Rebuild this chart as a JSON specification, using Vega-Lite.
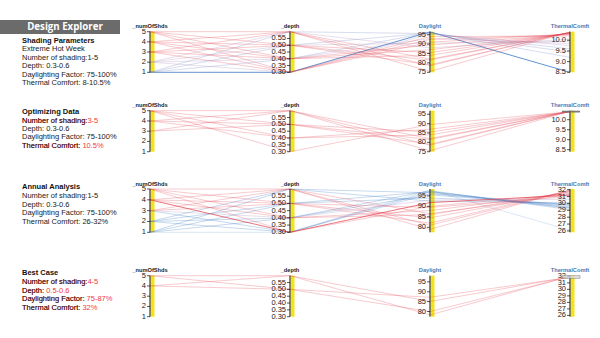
{
  "$schema": "https://vega.github.io/schema/vega-lite/v6.json",
  "width": 600,
  "height": 338,
  "padding": 0,
  "autosize": {"type": "fit", "contains": "padding"},
  "background": "white",
  "config": {"view": {"stroke": null}, "font": "Liberation Sans"},
  "resolve": {"scale": {"x": "independent", "y": "independent"}},
  "datasets": {
    "notes": [
      {"row": 1, "line": 0, "label": "Shading Parameters", "value": "", "hl": false, "bold": true},
      {"row": 1, "line": 1, "label": "Extreme Hot Week", "value": "", "hl": false, "bold": false},
      {"row": 1, "line": 2, "label": "Number of shading:", "value": "1-5", "hl": false, "bold": false},
      {"row": 1, "line": 3, "label": "Depth: ", "value": "0.3-0.6", "hl": false, "bold": false},
      {"row": 1, "line": 4, "label": "Daylighting Factor: ", "value": "75-100%", "hl": false, "bold": false},
      {"row": 1, "line": 5, "label": "Thermal Comfort: ", "value": "8-10.5%", "hl": false, "bold": false},
      {"row": 2, "line": 0, "label": "Optimizing Data", "value": "", "hl": false, "bold": true},
      {"row": 2, "line": 1, "label": "Number of shading:", "value": "3-5", "hl": true, "bold": false},
      {"row": 2, "line": 2, "label": "Depth: ", "value": "0.3-0.6", "hl": false, "bold": false},
      {"row": 2, "line": 3, "label": "Daylighting Factor: ", "value": "75-100%", "hl": false, "bold": false},
      {"row": 2, "line": 4, "label": "Thermal Comfort: ", "value": "10.5%", "hl": true, "bold": false},
      {"row": 3, "line": 0, "label": "Annual Analysis", "value": "", "hl": false, "bold": true},
      {"row": 3, "line": 1, "label": "Number of shading:", "value": "1-5", "hl": false, "bold": false},
      {"row": 3, "line": 2, "label": "Depth: ", "value": "0.3-0.6", "hl": false, "bold": false},
      {"row": 3, "line": 3, "label": "Daylighting Factor: ", "value": "75-100%", "hl": false, "bold": false},
      {"row": 3, "line": 4, "label": "Thermal Comfort: ", "value": "26-32%", "hl": false, "bold": false},
      {"row": 4, "line": 0, "label": "Best Case", "value": "", "hl": false, "bold": true},
      {"row": 4, "line": 1, "label": "Number of shading:", "value": "4-5", "hl": true, "bold": false},
      {"row": 4, "line": 2, "label": "Depth: ", "value": "0.5-0.6", "hl": true, "bold": false},
      {"row": 4, "line": 3, "label": "Daylighting Factor: ", "value": "75-87%", "hl": true, "bold": false},
      {"row": 4, "line": 4, "label": "Thermal Comfort: ", "value": "32%", "hl": true, "bold": false}
    ],
    "designs": [
      {"panel": 1, "id": 1, "_numOfShds": 1, "_depth": 0.3, "Daylight": 96.5, "ThermalComft": 8.5},
      {"panel": 1, "id": 2, "_numOfShds": 1, "_depth": 0.4, "Daylight": 96.2, "ThermalComft": 9.2},
      {"panel": 1, "id": 3, "_numOfShds": 1, "_depth": 0.5, "Daylight": 95.9, "ThermalComft": 9.45},
      {"panel": 1, "id": 4, "_numOfShds": 1, "_depth": 0.6, "Daylight": 95.6, "ThermalComft": 9.6},
      {"panel": 1, "id": 5, "_numOfShds": 2, "_depth": 0.3, "Daylight": 95.3, "ThermalComft": 9.75},
      {"panel": 1, "id": 6, "_numOfShds": 2, "_depth": 0.4, "Daylight": 93.0, "ThermalComft": 9.85},
      {"panel": 1, "id": 7, "_numOfShds": 2, "_depth": 0.5, "Daylight": 90.5, "ThermalComft": 9.95},
      {"panel": 1, "id": 8, "_numOfShds": 2, "_depth": 0.6, "Daylight": 88.0, "ThermalComft": 10.05},
      {"panel": 1, "id": 9, "_numOfShds": 3, "_depth": 0.3, "Daylight": 94.0, "ThermalComft": 10.2},
      {"panel": 1, "id": 10, "_numOfShds": 3, "_depth": 0.4, "Daylight": 89.5, "ThermalComft": 10.28},
      {"panel": 1, "id": 11, "_numOfShds": 3, "_depth": 0.5, "Daylight": 85.5, "ThermalComft": 10.33},
      {"panel": 1, "id": 12, "_numOfShds": 3, "_depth": 0.6, "Daylight": 82.0, "ThermalComft": 10.36},
      {"panel": 1, "id": 13, "_numOfShds": 4, "_depth": 0.3, "Daylight": 92.5, "ThermalComft": 10.26},
      {"panel": 1, "id": 14, "_numOfShds": 4, "_depth": 0.4, "Daylight": 87.0, "ThermalComft": 10.33},
      {"panel": 1, "id": 15, "_numOfShds": 4, "_depth": 0.5, "Daylight": 81.5, "ThermalComft": 10.36},
      {"panel": 1, "id": 16, "_numOfShds": 4, "_depth": 0.6, "Daylight": 78.5, "ThermalComft": 10.38},
      {"panel": 1, "id": 17, "_numOfShds": 5, "_depth": 0.3, "Daylight": 91.0, "ThermalComft": 10.3},
      {"panel": 1, "id": 18, "_numOfShds": 5, "_depth": 0.4, "Daylight": 84.0, "ThermalComft": 10.35},
      {"panel": 1, "id": 19, "_numOfShds": 5, "_depth": 0.5, "Daylight": 79.0, "ThermalComft": 10.37},
      {"panel": 1, "id": 20, "_numOfShds": 5, "_depth": 0.6, "Daylight": 75.5, "ThermalComft": 10.39},
      {"panel": 2, "id": 11, "_numOfShds": 3, "_depth": 0.5, "Daylight": 85.5, "ThermalComft": 10.4},
      {"panel": 2, "id": 12, "_numOfShds": 3, "_depth": 0.6, "Daylight": 82.0, "ThermalComft": 10.41},
      {"panel": 2, "id": 14, "_numOfShds": 4, "_depth": 0.4, "Daylight": 87.0, "ThermalComft": 10.4},
      {"panel": 2, "id": 15, "_numOfShds": 4, "_depth": 0.5, "Daylight": 81.5, "ThermalComft": 10.41},
      {"panel": 2, "id": 16, "_numOfShds": 4, "_depth": 0.6, "Daylight": 78.5, "ThermalComft": 10.42},
      {"panel": 2, "id": 17, "_numOfShds": 5, "_depth": 0.3, "Daylight": 89.5, "ThermalComft": 10.4},
      {"panel": 2, "id": 18, "_numOfShds": 5, "_depth": 0.4, "Daylight": 84.0, "ThermalComft": 10.41},
      {"panel": 2, "id": 19, "_numOfShds": 5, "_depth": 0.5, "Daylight": 79.0, "ThermalComft": 10.42},
      {"panel": 2, "id": 20, "_numOfShds": 5, "_depth": 0.6, "Daylight": 75.5, "ThermalComft": 10.42},
      {"panel": 3, "id": 1, "_numOfShds": 1, "_depth": 0.3, "Daylight": 97.8, "ThermalComft": 26.1},
      {"panel": 3, "id": 2, "_numOfShds": 1, "_depth": 0.4, "Daylight": 97.5, "ThermalComft": 29.1},
      {"panel": 3, "id": 3, "_numOfShds": 1, "_depth": 0.5, "Daylight": 97.0, "ThermalComft": 29.3},
      {"panel": 3, "id": 4, "_numOfShds": 1, "_depth": 0.6, "Daylight": 96.5, "ThermalComft": 29.4},
      {"panel": 3, "id": 5, "_numOfShds": 2, "_depth": 0.3, "Daylight": 97.0, "ThermalComft": 29.5},
      {"panel": 3, "id": 6, "_numOfShds": 2, "_depth": 0.4, "Daylight": 95.5, "ThermalComft": 29.7},
      {"panel": 3, "id": 7, "_numOfShds": 2, "_depth": 0.5, "Daylight": 94.0, "ThermalComft": 29.9},
      {"panel": 3, "id": 8, "_numOfShds": 2, "_depth": 0.6, "Daylight": 92.5, "ThermalComft": 30.1},
      {"panel": 3, "id": 9, "_numOfShds": 3, "_depth": 0.3, "Daylight": 96.0, "ThermalComft": 29.8},
      {"panel": 3, "id": 10, "_numOfShds": 3, "_depth": 0.4, "Daylight": 93.0, "ThermalComft": 30.6},
      {"panel": 3, "id": 11, "_numOfShds": 3, "_depth": 0.5, "Daylight": 89.5, "ThermalComft": 31.0},
      {"panel": 3, "id": 12, "_numOfShds": 3, "_depth": 0.6, "Daylight": 86.5, "ThermalComft": 31.3},
      {"panel": 3, "id": 13, "_numOfShds": 4, "_depth": 0.3, "Daylight": 91.8, "ThermalComft": 31.2},
      {"panel": 3, "id": 14, "_numOfShds": 4, "_depth": 0.4, "Daylight": 88.0, "ThermalComft": 31.5},
      {"panel": 3, "id": 15, "_numOfShds": 4, "_depth": 0.5, "Daylight": 84.5, "ThermalComft": 31.7},
      {"panel": 3, "id": 16, "_numOfShds": 4, "_depth": 0.6, "Daylight": 81.0, "ThermalComft": 31.85},
      {"panel": 3, "id": 17, "_numOfShds": 5, "_depth": 0.3, "Daylight": 90.0, "ThermalComft": 31.4},
      {"panel": 3, "id": 18, "_numOfShds": 5, "_depth": 0.4, "Daylight": 86.0, "ThermalComft": 31.7},
      {"panel": 3, "id": 19, "_numOfShds": 5, "_depth": 0.5, "Daylight": 82.0, "ThermalComft": 31.9},
      {"panel": 3, "id": 20, "_numOfShds": 5, "_depth": 0.6, "Daylight": 79.0, "ThermalComft": 32.0},
      {"panel": 4, "id": 1, "_numOfShds": 5, "_depth": 0.6, "Daylight": 78.3, "ThermalComft": 32.0},
      {"panel": 4, "id": 2, "_numOfShds": 5, "_depth": 0.5, "Daylight": 80.0, "ThermalComft": 31.95},
      {"panel": 4, "id": 3, "_numOfShds": 4, "_depth": 0.6, "Daylight": 85.1, "ThermalComft": 31.9},
      {"panel": 4, "id": 4, "_numOfShds": 4, "_depth": 0.5, "Daylight": 87.2, "ThermalComft": 31.85}
    ],
    "axes": [
      {"key": "_numOfShds"},
      {"key": "_depth"},
      {"key": "Daylight"},
      {"key": "ThermalComft"}
    ],
    "ticks": [
      {"set": "all", "key": "_numOfShds", "value": 1, "label": "1"},
      {"set": "all", "key": "_numOfShds", "value": 2, "label": "2"},
      {"set": "all", "key": "_numOfShds", "value": 3, "label": "3"},
      {"set": "all", "key": "_numOfShds", "value": 4, "label": "4"},
      {"set": "all", "key": "_numOfShds", "value": 5, "label": "5"},
      {"set": "all", "key": "_depth", "value": 0.3, "label": "0.30"},
      {"set": "all", "key": "_depth", "value": 0.35, "label": "0.35"},
      {"set": "all", "key": "_depth", "value": 0.4, "label": "0.40"},
      {"set": "all", "key": "_depth", "value": 0.45, "label": "0.45"},
      {"set": "all", "key": "_depth", "value": 0.5, "label": "0.50"},
      {"set": "all", "key": "_depth", "value": 0.55, "label": "0.55"},
      {"set": "week", "key": "Daylight", "value": 75, "label": "75"},
      {"set": "all", "key": "Daylight", "value": 80, "label": "80"},
      {"set": "all", "key": "Daylight", "value": 85, "label": "85"},
      {"set": "all", "key": "Daylight", "value": 90, "label": "90"},
      {"set": "all", "key": "Daylight", "value": 95, "label": "95"},
      {"set": "week", "key": "ThermalComft", "value": 8.5, "label": "8.5"},
      {"set": "week", "key": "ThermalComft", "value": 9.0, "label": "9.0"},
      {"set": "week", "key": "ThermalComft", "value": 9.5, "label": "9.5"},
      {"set": "week", "key": "ThermalComft", "value": 10.0, "label": "10.0"},
      {"set": "year", "key": "ThermalComft", "value": 26, "label": "26"},
      {"set": "year", "key": "ThermalComft", "value": 27, "label": "27"},
      {"set": "year", "key": "ThermalComft", "value": 28, "label": "28"},
      {"set": "year", "key": "ThermalComft", "value": 29, "label": "29"},
      {"set": "year", "key": "ThermalComft", "value": 30, "label": "30"},
      {"set": "year", "key": "ThermalComft", "value": 31, "label": "31"},
      {"set": "year", "key": "ThermalComft", "value": 32, "label": "32"}
    ],
    "brushes": [
      {"panel": 2, "key": "ThermalComft", "b0": 10.36, "b1": 10.45},
      {"panel": 4, "key": "ThermalComft", "b0": 31.7, "b1": 32.1}
    ]
  },
  "layer": [
    {
      "layer": [
        {
          "data": {"values": [{"t": "Design Explorer"}]},
          "mark": {"type": "rect", "color": "#6b6b6b"},
          "encoding": {
            "x": {"datum": -22, "type": "quantitative", "scale": {"domain": [-22, 578], "nice": false, "zero": false}, "axis": null},
            "x2": {"datum": 98},
            "y": {"datum": -2.5, "type": "quantitative", "scale": {"domain": [-4.881, 35.357], "nice": false, "zero": false, "reverse": true}, "axis": null},
            "y2": {"datum": -0.83}
          }
        },
        {
          "data": {"values": [{"t": "Design Explorer"}]},
          "mark": {"type": "text", "color": "white", "font": "Open Sans", "fontWeight": "bold", "fontSize": 9.7, "align": "center", "baseline": "middle"},
          "encoding": {
            "x": {"datum": 43, "type": "quantitative", "axis": null},
            "y": {"datum": -1.66, "type": "quantitative", "axis": null},
            "text": {"field": "t"}
          }
        },
        {
          "data": {"name": "notes"},
          "transform": [{"filter": "datum.row == 1 && datum.bold"}],
          "mark": {"type": "text", "align": "left", "baseline": "middle", "fontSize": 7.5, "fontWeight": "bold", "color": "#111"},
          "encoding": {
            "x": {"datum": 0, "type": "quantitative", "axis": null},
            "y": {"field": "line", "type": "quantitative", "axis": null},
            "text": {"field": "label"}
          }
        },
        {
          "data": {"name": "notes"},
          "transform": [{"filter": "datum.row == 1 && !datum.bold"}, {"calculate": "datum.label + datum.value", "as": "full"}],
          "mark": {"type": "text", "align": "left", "baseline": "middle", "fontSize": 7.5},
          "encoding": {
            "x": {"datum": 0, "type": "quantitative", "axis": null},
            "y": {"field": "line", "type": "quantitative", "axis": null},
            "text": {"field": "full"},
            "color": {"condition": {"test": "datum.hl", "value": "#f23c3c"}, "value": "#1a1a1a"}
          }
        }
      ]
    },
    {
      "layer": [
        {
          "data": {"name": "notes"},
          "transform": [{"filter": "datum.row == 2 && datum.bold"}],
          "mark": {"type": "text", "align": "left", "baseline": "middle", "fontSize": 7.5, "fontWeight": "bold", "color": "#111"},
          "encoding": {
            "x": {"datum": 0, "type": "quantitative", "scale": {"domain": [-22, 578], "nice": false, "zero": false}, "axis": null},
            "y": {"field": "line", "type": "quantitative", "scale": {"domain": [-13.369, 26.869], "nice": false, "zero": false, "reverse": true}, "axis": null},
            "text": {"field": "label"}
          }
        },
        {
          "data": {"name": "notes"},
          "transform": [{"filter": "datum.row == 2 && !datum.bold"}, {"calculate": "datum.label + datum.value", "as": "full"}],
          "mark": {"type": "text", "align": "left", "baseline": "middle", "fontSize": 7.5},
          "encoding": {
            "x": {"datum": 0, "type": "quantitative", "axis": null},
            "y": {"field": "line", "type": "quantitative", "axis": null},
            "text": {"field": "full"},
            "color": {"condition": {"test": "datum.hl", "value": "#f23c3c"}, "value": "#1a1a1a"}
          }
        },
        {
          "data": {"name": "notes"},
          "transform": [{"filter": "datum.row == 2 && datum.hl"}],
          "mark": {"type": "text", "align": "left", "baseline": "middle", "fontSize": 7.5, "color": "#1a1a1a"},
          "encoding": {
            "x": {"datum": 0, "type": "quantitative", "axis": null},
            "y": {"field": "line", "type": "quantitative", "axis": null},
            "text": {"field": "label"}
          }
        }
      ]
    },
    {
      "layer": [
        {
          "data": {"name": "notes"},
          "transform": [{"filter": "datum.row == 3 && datum.bold"}],
          "mark": {"type": "text", "align": "left", "baseline": "middle", "fontSize": 7.5, "fontWeight": "bold", "color": "#111"},
          "encoding": {
            "x": {"datum": 0, "type": "quantitative", "scale": {"domain": [-22, 578], "nice": false, "zero": false}, "axis": null},
            "y": {"field": "line", "type": "quantitative", "scale": {"domain": [-21.779, 17.523], "nice": false, "zero": false, "reverse": true}, "axis": null},
            "text": {"field": "label"}
          }
        },
        {
          "data": {"name": "notes"},
          "transform": [{"filter": "datum.row == 3 && !datum.bold"}, {"calculate": "datum.label + datum.value", "as": "full"}],
          "mark": {"type": "text", "align": "left", "baseline": "middle", "fontSize": 7.5},
          "encoding": {
            "x": {"datum": 0, "type": "quantitative", "axis": null},
            "y": {"field": "line", "type": "quantitative", "axis": null},
            "text": {"field": "full"},
            "color": {"condition": {"test": "datum.hl", "value": "#f23c3c"}, "value": "#1a1a1a"}
          }
        }
      ]
    },
    {
      "layer": [
        {
          "data": {"name": "notes"},
          "transform": [{"filter": "datum.row == 4 && datum.bold"}],
          "mark": {"type": "text", "align": "left", "baseline": "middle", "fontSize": 7.5, "fontWeight": "bold", "color": "#111"},
          "encoding": {
            "x": {"datum": 0, "type": "quantitative", "scale": {"domain": [-22, 578], "nice": false, "zero": false}, "axis": null},
            "y": {"field": "line", "type": "quantitative", "scale": {"domain": [-31.779, 7.523], "nice": false, "zero": false, "reverse": true}, "axis": null},
            "text": {"field": "label"}
          }
        },
        {
          "data": {"name": "notes"},
          "transform": [{"filter": "datum.row == 4 && !datum.bold"}, {"calculate": "datum.label + datum.value", "as": "full"}],
          "mark": {"type": "text", "align": "left", "baseline": "middle", "fontSize": 7.5},
          "encoding": {
            "x": {"datum": 0, "type": "quantitative", "axis": null},
            "y": {"field": "line", "type": "quantitative", "axis": null},
            "text": {"field": "full"},
            "color": {"condition": {"test": "datum.hl", "value": "#f23c3c"}, "value": "#1a1a1a"}
          }
        },
        {
          "data": {"name": "notes"},
          "transform": [{"filter": "datum.row == 4 && datum.hl"}],
          "mark": {"type": "text", "align": "left", "baseline": "middle", "fontSize": 7.5, "color": "#1a1a1a"},
          "encoding": {
            "x": {"datum": 0, "type": "quantitative", "axis": null},
            "y": {"field": "line", "type": "quantitative", "axis": null},
            "text": {"field": "label"}
          }
        }
      ]
    },
    {
      "layer": [
        {
          "data": {"name": "axes"},
          "mark": {"type": "bar", "width": 4, "xOffset": 2.5, "color": "#f5e31a"},
          "encoding": {
            "x": {"field": "key", "type": "nominal", "scale": {"type": "point", "domain": ["_numOfShds", "_depth", "Daylight", "ThermalComft"], "padding": 0.6429, "align": 0.8333}, "axis": null},
            "y": {"datum": 0, "type": "quantitative", "scale": {"domain": [-6.5443, 1.7808], "nice": false, "zero": false}, "axis": null},
            "y2": {"datum": 1}
          }
        },
        {
          "data": {"name": "designs"},
          "transform": [
            {"filter": "datum.panel == 1"},
            {"fold": ["_numOfShds", "_depth", "Daylight", "ThermalComft"], "as": ["key", "value"]},
            {"calculate": "indexof(['_numOfShds', '_depth', 'Daylight', 'ThermalComft'], datum.key)", "as": "idx"},
            {"calculate": "datum.key == '_numOfShds' ? (datum.value - 1) / 4 : datum.key == '_depth' ? (datum.value - 0.3) / 0.3 : datum.key == 'Daylight' ? (datum.value - 75) / 21.6 : (datum.value - 8.5) / 1.9", "as": "norm"}
          ],
          "mark": {"type": "line", "strokeWidth": 0.9},
          "encoding": {
            "x": {"field": "key", "type": "nominal", "axis": null},
            "y": {"field": "norm", "type": "quantitative", "axis": null},
            "order": {"field": "idx", "type": "quantitative"},
            "detail": {"field": "id", "type": "nominal"},
            "color": {"condition": [{"test": "datum.ThermalComft < 9", "value": "#2f72c0"}, {"test": "datum.ThermalComft < 9.7", "value": "#6f82c0"}, {"test": "datum.ThermalComft < 10.1", "value": "#a58ab8"}], "value": "#e0404d"},
            "opacity": {"condition": {"test": "datum.ThermalComft < 9", "value": 0.85}, "value": 0.3}
          }
        },
        {
          "data": {"name": "axes"},
          "mark": {"type": "rule", "color": "#111", "strokeWidth": 1},
          "encoding": {
            "x": {"field": "key", "type": "nominal", "axis": null},
            "y": {"datum": 0, "type": "quantitative", "axis": null},
            "y2": {"datum": 1}
          }
        },
        {
          "data": {"name": "ticks"},
          "transform": [
            {"filter": "datum.set != 'year'"},
            {"calculate": "datum.key == '_numOfShds' ? (datum.value - 1) / 4 : datum.key == '_depth' ? (datum.value - 0.3) / 0.3 : datum.key == 'Daylight' ? (datum.value - 75) / 21.6 : (datum.value - 8.5) / 1.9", "as": "norm"}
          ],
          "mark": {"type": "tick", "orient": "horizontal", "size": 3, "thickness": 1, "xOffset": -1.5, "color": "#111"},
          "encoding": {
            "x": {"field": "key", "type": "nominal", "axis": null},
            "y": {"field": "norm", "type": "quantitative", "axis": null}
          }
        },
        {
          "data": {"name": "ticks"},
          "transform": [
            {"filter": "datum.set != 'year'"},
            {"calculate": "datum.key == '_numOfShds' ? (datum.value - 1) / 4 : datum.key == '_depth' ? (datum.value - 0.3) / 0.3 : datum.key == 'Daylight' ? (datum.value - 75) / 21.6 : (datum.value - 8.5) / 1.9", "as": "norm"}
          ],
          "mark": {"type": "text", "align": "right", "baseline": "middle", "dx": -4, "fontSize": 7.5, "color": "#222"},
          "encoding": {
            "x": {"field": "key", "type": "nominal", "axis": null},
            "y": {"field": "norm", "type": "quantitative", "axis": null},
            "text": {"field": "label"}
          }
        },
        {
          "data": {"name": "axes"},
          "mark": {"type": "text", "fontSize": 5.7, "fontWeight": "bold", "dy": -5.5, "baseline": "middle", "align": "center"},
          "encoding": {
            "x": {"field": "key", "type": "nominal", "axis": null},
            "y": {"datum": 1, "type": "quantitative", "axis": null},
            "text": {"field": "key"},
            "color": {"condition": {"test": "datum.key == '_numOfShds' || datum.key == '_depth'", "value": "#222"}, "value": "#4a78b5"}
          }
        }
      ]
    },
    {
      "layer": [
        {
          "data": {"name": "axes"},
          "mark": {"type": "bar", "width": 4, "xOffset": 2.5, "color": "#f5e31a"},
          "encoding": {
            "x": {"field": "key", "type": "nominal", "scale": {"type": "point", "domain": ["_numOfShds", "_depth", "Daylight", "ThermalComft"], "padding": 0.6429, "align": 0.8333}, "axis": null},
            "y": {"datum": 0, "type": "quantitative", "scale": {"domain": [-4.5439, 3.7], "nice": false, "zero": false}, "axis": null},
            "y2": {"datum": 1}
          }
        },
        {
          "data": {"name": "designs"},
          "transform": [
            {"filter": "datum.panel == 2"},
            {"fold": ["_numOfShds", "_depth", "Daylight", "ThermalComft"], "as": ["key", "value"]},
            {"calculate": "indexof(['_numOfShds', '_depth', 'Daylight', 'ThermalComft'], datum.key)", "as": "idx"},
            {"calculate": "datum.key == '_numOfShds' ? (datum.value - 1) / 4 : datum.key == '_depth' ? (datum.value - 0.3) / 0.3 : datum.key == 'Daylight' ? (datum.value - 75) / 21.9 : (datum.value - 8.4) / 2.05", "as": "norm"}
          ],
          "mark": {"type": "line", "strokeWidth": 0.9, "opacity": 0.3, "color": "#e0404d"},
          "encoding": {
            "x": {"field": "key", "type": "nominal", "axis": null},
            "y": {"field": "norm", "type": "quantitative", "axis": null},
            "order": {"field": "idx", "type": "quantitative"},
            "detail": {"field": "id", "type": "nominal"}
          }
        },
        {
          "data": {"name": "axes"},
          "mark": {"type": "rule", "color": "#111", "strokeWidth": 1},
          "encoding": {
            "x": {"field": "key", "type": "nominal", "axis": null},
            "y": {"datum": 0, "type": "quantitative", "axis": null},
            "y2": {"datum": 1}
          }
        },
        {
          "data": {"name": "ticks"},
          "transform": [
            {"filter": "datum.set != 'year'"},
            {"calculate": "datum.key == '_numOfShds' ? (datum.value - 1) / 4 : datum.key == '_depth' ? (datum.value - 0.3) / 0.3 : datum.key == 'Daylight' ? (datum.value - 75) / 21.9 : (datum.value - 8.4) / 2.05", "as": "norm"}
          ],
          "mark": {"type": "tick", "orient": "horizontal", "size": 3, "thickness": 1, "xOffset": -1.5, "color": "#111"},
          "encoding": {
            "x": {"field": "key", "type": "nominal", "axis": null},
            "y": {"field": "norm", "type": "quantitative", "axis": null}
          }
        },
        {
          "data": {"name": "ticks"},
          "transform": [
            {"filter": "datum.set != 'year'"},
            {"calculate": "datum.key == '_numOfShds' ? (datum.value - 1) / 4 : datum.key == '_depth' ? (datum.value - 0.3) / 0.3 : datum.key == 'Daylight' ? (datum.value - 75) / 21.9 : (datum.value - 8.4) / 2.05", "as": "norm"}
          ],
          "mark": {"type": "text", "align": "right", "baseline": "middle", "dx": -4, "fontSize": 7.5, "color": "#222"},
          "encoding": {
            "x": {"field": "key", "type": "nominal", "axis": null},
            "y": {"field": "norm", "type": "quantitative", "axis": null},
            "text": {"field": "label"}
          }
        },
        {
          "data": {"name": "brushes"},
          "transform": [
            {"filter": "datum.panel == 2"},
            {"calculate": "(datum.b0 - 8.4) / 2.05", "as": "n0"},
            {"calculate": "(datum.b1 - 8.4) / 2.05", "as": "n1"}
          ],
          "mark": {"type": "bar", "width": 18, "xOffset": 1, "color": "#6e6e6e", "opacity": 0.9},
          "encoding": {
            "x": {"field": "key", "type": "nominal", "axis": null},
            "y": {"field": "n0", "type": "quantitative", "axis": null},
            "y2": {"field": "n1"}
          }
        },
        {
          "data": {"name": "axes"},
          "mark": {"type": "text", "fontSize": 5.7, "fontWeight": "bold", "dy": -5.5, "baseline": "middle", "align": "center"},
          "encoding": {
            "x": {"field": "key", "type": "nominal", "axis": null},
            "y": {"datum": 1, "type": "quantitative", "axis": null},
            "text": {"field": "key"},
            "color": {"condition": {"test": "datum.key == '_numOfShds' || datum.key == '_depth'", "value": "#222"}, "value": "#4a78b5"}
          }
        }
      ]
    },
    {
      "layer": [
        {
          "data": {"name": "axes"},
          "mark": {"type": "bar", "width": 4, "xOffset": 2.5, "color": "#f5e31a"},
          "encoding": {
            "x": {"field": "key", "type": "nominal", "scale": {"type": "point", "domain": ["_numOfShds", "_depth", "Daylight", "ThermalComft"], "padding": 0.6429, "align": 0.8333}, "axis": null},
            "y": {"datum": 0, "type": "quantitative", "scale": {"domain": [-2.4411, 5.3649], "nice": false, "zero": false}, "axis": null},
            "y2": {"datum": 1}
          }
        },
        {
          "data": {"name": "designs"},
          "transform": [
            {"filter": "datum.panel == 3"},
            {"fold": ["_numOfShds", "_depth", "Daylight", "ThermalComft"], "as": ["key", "value"]},
            {"calculate": "indexof(['_numOfShds', '_depth', 'Daylight', 'ThermalComft'], datum.key)", "as": "idx"},
            {"calculate": "datum.key == '_numOfShds' ? (datum.value - 1) / 4 : datum.key == '_depth' ? (datum.value - 0.3) / 0.3 : datum.key == 'Daylight' ? (datum.value - 77.6) / 20.7 : (datum.value - 25.8) / 6.3", "as": "norm"}
          ],
          "mark": {"type": "line", "strokeWidth": 0.9},
          "encoding": {
            "x": {"field": "key", "type": "nominal", "axis": null},
            "y": {"field": "norm", "type": "quantitative", "axis": null},
            "order": {"field": "idx", "type": "quantitative"},
            "detail": {"field": "id", "type": "nominal"},
            "color": {"condition": [{"test": "datum.ThermalComft < 27", "value": "#7fa8d8"}, {"test": "datum.ThermalComft < 30.3", "value": "#2f72c0"}, {"test": "datum.ThermalComft < 30.9", "value": "#a58ab8"}], "value": "#e0404d"},
            "opacity": {"condition": {"test": "datum.ThermalComft > 31.15 && datum.ThermalComft < 31.25", "value": 0.8}, "value": 0.3}
          }
        },
        {
          "data": {"name": "axes"},
          "mark": {"type": "rule", "color": "#111", "strokeWidth": 1},
          "encoding": {
            "x": {"field": "key", "type": "nominal", "axis": null},
            "y": {"datum": 0, "type": "quantitative", "axis": null},
            "y2": {"datum": 1}
          }
        },
        {
          "data": {"name": "ticks"},
          "transform": [
            {"filter": "datum.set != 'week'"},
            {"calculate": "datum.key == '_numOfShds' ? (datum.value - 1) / 4 : datum.key == '_depth' ? (datum.value - 0.3) / 0.3 : datum.key == 'Daylight' ? (datum.value - 77.6) / 20.7 : (datum.value - 25.8) / 6.3", "as": "norm"}
          ],
          "mark": {"type": "tick", "orient": "horizontal", "size": 3, "thickness": 1, "xOffset": -1.5, "color": "#111"},
          "encoding": {
            "x": {"field": "key", "type": "nominal", "axis": null},
            "y": {"field": "norm", "type": "quantitative", "axis": null}
          }
        },
        {
          "data": {"name": "ticks"},
          "transform": [
            {"filter": "datum.set != 'week'"},
            {"calculate": "datum.key == '_numOfShds' ? (datum.value - 1) / 4 : datum.key == '_depth' ? (datum.value - 0.3) / 0.3 : datum.key == 'Daylight' ? (datum.value - 77.6) / 20.7 : (datum.value - 25.8) / 6.3", "as": "norm"}
          ],
          "mark": {"type": "text", "align": "right", "baseline": "middle", "dx": -4, "fontSize": 7.5, "color": "#222"},
          "encoding": {
            "x": {"field": "key", "type": "nominal", "axis": null},
            "y": {"field": "norm", "type": "quantitative", "axis": null},
            "text": {"field": "label"}
          }
        },
        {
          "data": {"name": "axes"},
          "mark": {"type": "text", "fontSize": 5.7, "fontWeight": "bold", "dy": -5.5, "baseline": "middle", "align": "center"},
          "encoding": {
            "x": {"field": "key", "type": "nominal", "axis": null},
            "y": {"datum": 1, "type": "quantitative", "axis": null},
            "text": {"field": "key"},
            "color": {"condition": {"test": "datum.key == '_numOfShds' || datum.key == '_depth'", "value": "#222"}, "value": "#4a78b5"}
          }
        }
      ]
    },
    {
      "layer": [
        {
          "data": {"name": "axes"},
          "mark": {"type": "bar", "width": 4, "xOffset": 2.5, "color": "#f5e31a"},
          "encoding": {
            "x": {"field": "key", "type": "nominal", "scale": {"type": "point", "domain": ["_numOfShds", "_depth", "Daylight", "ThermalComft"], "padding": 0.6429, "align": 0.8333}, "axis": null},
            "y": {"datum": 0, "type": "quantitative", "scale": {"domain": [-0.5195, 7.7244], "nice": false, "zero": false}, "axis": null},
            "y2": {"datum": 1}
          }
        },
        {
          "data": {"name": "designs"},
          "transform": [
            {"filter": "datum.panel == 4"},
            {"fold": ["_numOfShds", "_depth", "Daylight", "ThermalComft"], "as": ["key", "value"]},
            {"calculate": "indexof(['_numOfShds', '_depth', 'Daylight', 'ThermalComft'], datum.key)", "as": "idx"},
            {"calculate": "datum.key == '_numOfShds' ? (datum.value - 1) / 4 : datum.key == '_depth' ? (datum.value - 0.3) / 0.3 : datum.key == 'Daylight' ? (datum.value - 77.4) / 20.7 : (datum.value - 25.8) / 6.3", "as": "norm"}
          ],
          "mark": {"type": "line", "strokeWidth": 0.9, "opacity": 0.3, "color": "#e0404d"},
          "encoding": {
            "x": {"field": "key", "type": "nominal", "axis": null},
            "y": {"field": "norm", "type": "quantitative", "axis": null},
            "order": {"field": "idx", "type": "quantitative"},
            "detail": {"field": "id", "type": "nominal"}
          }
        },
        {
          "data": {"name": "axes"},
          "mark": {"type": "rule", "color": "#111", "strokeWidth": 1},
          "encoding": {
            "x": {"field": "key", "type": "nominal", "axis": null},
            "y": {"datum": 0, "type": "quantitative", "axis": null},
            "y2": {"datum": 1}
          }
        },
        {
          "data": {"name": "ticks"},
          "transform": [
            {"filter": "datum.set != 'week'"},
            {"calculate": "datum.key == '_numOfShds' ? (datum.value - 1) / 4 : datum.key == '_depth' ? (datum.value - 0.3) / 0.3 : datum.key == 'Daylight' ? (datum.value - 77.4) / 20.7 : (datum.value - 25.8) / 6.3", "as": "norm"}
          ],
          "mark": {"type": "tick", "orient": "horizontal", "size": 3, "thickness": 1, "xOffset": -1.5, "color": "#111"},
          "encoding": {
            "x": {"field": "key", "type": "nominal", "axis": null},
            "y": {"field": "norm", "type": "quantitative", "axis": null}
          }
        },
        {
          "data": {"name": "ticks"},
          "transform": [
            {"filter": "datum.set != 'week'"},
            {"calculate": "datum.key == '_numOfShds' ? (datum.value - 1) / 4 : datum.key == '_depth' ? (datum.value - 0.3) / 0.3 : datum.key == 'Daylight' ? (datum.value - 77.4) / 20.7 : (datum.value - 25.8) / 6.3", "as": "norm"}
          ],
          "mark": {"type": "text", "align": "right", "baseline": "middle", "dx": -4, "fontSize": 7.5, "color": "#222"},
          "encoding": {
            "x": {"field": "key", "type": "nominal", "axis": null},
            "y": {"field": "norm", "type": "quantitative", "axis": null},
            "text": {"field": "label"}
          }
        },
        {
          "data": {"name": "brushes"},
          "transform": [
            {"filter": "datum.panel == 4"},
            {"calculate": "(datum.b0 - 25.8) / 6.3", "as": "n0"},
            {"calculate": "(datum.b1 - 25.8) / 6.3", "as": "n1"}
          ],
          "mark": {"type": "bar", "width": 18, "xOffset": 1, "color": "#e6e6e6", "opacity": 0.8, "stroke": "#777", "strokeWidth": 0.7},
          "encoding": {
            "x": {"field": "key", "type": "nominal", "axis": null},
            "y": {"field": "n0", "type": "quantitative", "axis": null},
            "y2": {"field": "n1"}
          }
        },
        {
          "data": {"name": "axes"},
          "mark": {"type": "text", "fontSize": 5.7, "fontWeight": "bold", "dy": -5.5, "baseline": "middle", "align": "center"},
          "encoding": {
            "x": {"field": "key", "type": "nominal", "axis": null},
            "y": {"datum": 1, "type": "quantitative", "axis": null},
            "text": {"field": "key"},
            "color": {"condition": {"test": "datum.key == '_numOfShds' || datum.key == '_depth'", "value": "#222"}, "value": "#4a78b5"}
          }
        }
      ]
    }
  ]
}
